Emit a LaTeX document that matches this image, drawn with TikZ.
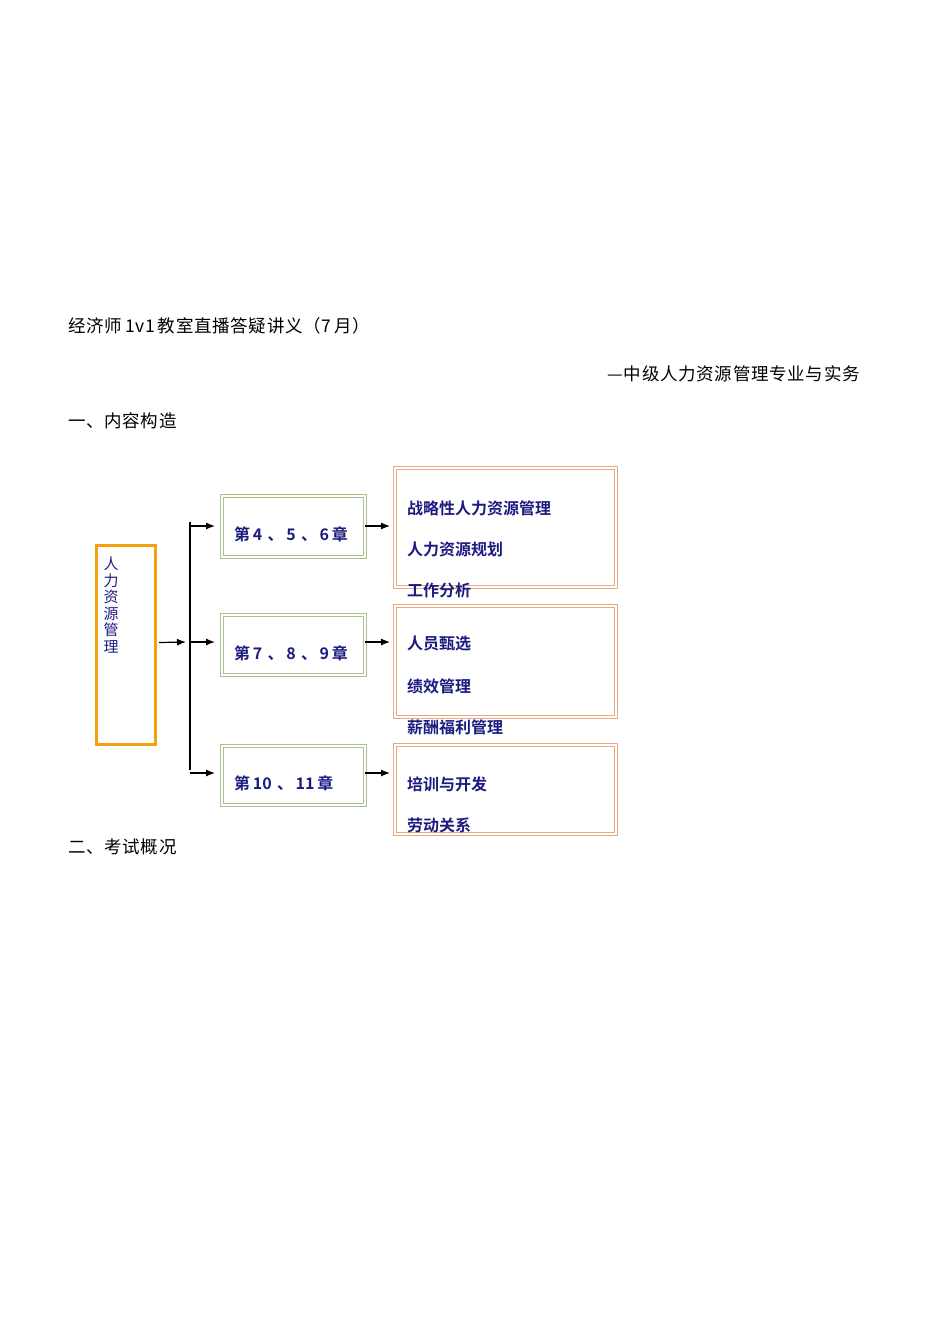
\documentclass[tikz,border=0pt]{standalone}
\usepackage{fontspec}
\usetikzlibrary{arrows.meta}
\setmainfont{Liberation Serif}
\newfontfamily\cjk[LetterSpace=4]{Noto Sans CJK SC}
\newfontfamily\cjkb{Noto Sans CJK SC Bold}
\definecolor{navy}{HTML}{1C1C80}
\definecolor{orng}{HTML}{F5A010}
\definecolor{peach}{HTML}{EAA882}
\definecolor{grn}{HTML}{A8C290}
\begin{document}
\begin{tikzpicture}[x=1pt,y=-1pt,
  body/.style={anchor=west,inner sep=0pt,font=\cjk\fontsize{17.5}{20}\selectfont},
  lbl/.style={anchor=west,inner sep=0pt,text=navy,font=\cjkb\fontsize{16}{20}\selectfont},
  gbox/.style={draw=grn,double=white,double distance=1.2pt,line width=1pt},
  pbox/.style={draw=peach,double=white,double distance=1.2pt,line width=1pt},
  arr/.style={-{Latex[length=9pt,width=7pt]},line width=1.2pt}]
\useasboundingbox (0,0) rectangle (950,1344);
\node[body] (t1) at (68,326) {经济师\,1v1\,教室直播答疑讲义（7\,月）};
\node[body,anchor=east] (t2) at (860,374) {—中级人力资源管理专业与实务};
\node[body] (t3) at (68,421) {一、内容构造};
\node[body] (t4) at (68,847) {二、考试概况};
\draw[orng,line width=3pt] (96,545) rectangle (155,744);
\node (root) at (125.5,644.5) [minimum width=59pt,minimum height=199pt] {};
\node[text=navy,font=\cjk\fontsize{15}{16.5}\selectfont,align=center,anchor=north,inner sep=0pt] (rt) at (111,557) {人\\力\\资\\源\\管\\理};
\coordinate (j) at (190,642);
\coordinate (jt) at (190,522);
\coordinate (jb) at (190,770);
\draw[arr] (root.east)++(4,-2) -- (186,642);
\draw[line width=1.2pt] (jt) -- (jb);
\foreach \n/\y/\h/\tx/\py/\ph in {a/526.5/61/{第\,4\,\,、\,5\,\,、\,6\,章}/527.5/119, b/645/60/{第\,7\,\,、\,8\,\,、\,9\,章}/661.5/111, c/775.5/59/{第\,10\,\,、\,11\,章}/789.5/89}{
  \draw[gbox] (222,\y-\h/2) rectangle (365,\y+\h/2);
  \node[minimum width=143pt,minimum height=\h pt,inner sep=0pt] (g\n) at (293.5,\y) {};
  \node[lbl] at (234,\y+8) {\tx};
  \draw[pbox] (395,\py-\ph/2) rectangle (616,\py+\ph/2);
  \node[minimum width=221pt,minimum height=\ph pt,inner sep=0pt] (p\n) at (505.5,\py) {};
}
\draw[arr] (190,526) -- (215,526);
\draw[arr] (190,642) -- (215,642);
\draw[arr] (190,773) -- (215,773);
\draw[arr] (365,526) -- (390,526);
\draw[arr] (365,642) -- (390,642);
\draw[arr] (365,773) -- (390,773);
\foreach \y/\tx in {508/战略性人力资源管理,549/人力资源规划,590/工作分析,644/人员甄选,686/绩效管理,727/薪酬福利管理,784/培训与开发,825/劳动关系}
  \node[lbl] at (407,\y) {\tx};
\end{tikzpicture}
\end{document}
